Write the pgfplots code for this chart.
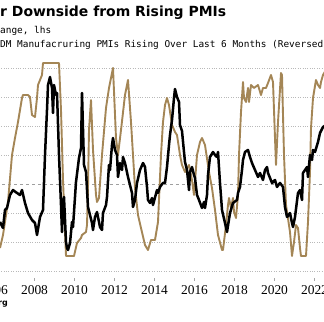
\documentclass[border=0pt]{standalone}
\usepackage{pgfplots}
\pgfplotsset{compat=1.18}
\usepackage{fontspec}
\setmainfont{Liberation Serif}
\newfontfamily\titlefont{DejaVu Sans}
\newfontfamily\monofont{DejaVu Sans Mono}
\definecolor{tanc}{RGB}{164,134,86}
\definecolor{gridc}{RGB}{185,185,185}

\begin{document}
\begin{tikzpicture}
\useasboundingbox (0bp,0bp) rectangle (324bp,322bp);
\begin{scope}
\clip (0bp,0bp) rectangle (324bp,322bp);

\node[anchor=base west, inner sep=0, font=\titlefont\bfseries\fontsize{14}{16}\selectfont] at (0bp,305.3bp) {r Downside from Rising PMIs};
\node[anchor=base west, inner sep=0, font=\monofont\fontsize{9.45}{11}\selectfont] at (0bp,288.3bp) {ange, lhs};
\node[anchor=base west, inner sep=0, font=\monofont\fontsize{9.45}{11}\selectfont] at (0bp,274.3bp) {DM Manufacruring PMIs Rising Over Last 6 Months (Reversed), rhs};
\node[anchor=base east, inner sep=0, font=\titlefont\bfseries\fontsize{8}{9}\selectfont] at (8bp,17bp) {Source: Bloomberg};

% axis A: grid, ticks, labels
\begin{axis}[
  at={(-15.5bp,44bp)}, anchor=south west,
  width=370bp, height=218bp, scale only axis,
  xmin=2005.5, xmax=2024, ymin=-32.24, ymax=42.93,
  axis line style={draw=none},
  xtick={2006,2008,2010,2012,2014,2016,2018,2020,2022},
  xticklabels={2006,2008,2010,2012,2014,2016,2018,2020,2022},
  xtick pos=bottom, tick align=outside,
  major tick length=3bp,
  xtick style={gray!70, line width=0.8bp},
  xticklabel style={font=\fontsize{13.5}{15}\selectfont, yshift=-1bp},
  ytick={-30,-20,-10,10,20,30,40}, yticklabels={},
  ytick style={draw=none},
  ymajorgrids, grid style={gridc, dotted, line width=0.9bp},
  extra y ticks={0}, extra y tick labels={},
  extra y tick style={grid style={gray!75, dashed, line width=0.8bp}, tick style={draw=none}},
]
\addplot[draw=none] coordinates {(2006,0)};
\draw[gray!60, line width=1bp] (rel axis cs:0,0) -- (rel axis cs:1,0);
\end{axis}

% axis B: tan series (reversed)
\begin{axis}[
  at={(-15.5bp,44bp)}, anchor=south west,
  width=370bp, height=218bp, scale only axis,
  xmin=2005.5, xmax=2024, ymin=-1.554, ymax=111.4, y dir=reverse,
  hide axis,
]
\addplot[tanc, line width=1.9bp, line join=round] coordinates {
(2006.275,95.85) (2006.425,89.12) (2006.675,72.02) (2006.875,47.67) (2007.025,38.86)
(2007.175,30.57) (2007.375,18.13) (2007.425,16.58) (2007.675,16.58) (2007.775,17.62)
(2007.875,26.94) (2008.025,27.98) (2008.125,18.13) (2008.175,11.40) (2008.375,6.22)
(2008.425,0) (2009.225,0) (2009.325,24.35) (2009.425,60.62) (2009.575,100)
(2009.975,100) (2010.125,93.26) (2010.325,90.67) (2010.375,89.12) (2010.575,87.56)
(2010.625,83.94) (2010.675,64.77) (2010.725,34.72) (2010.825,19.17) (2010.925,45.08)
(2011.075,68.39) (2011.125,72.02) (2011.225,69.95) (2011.375,47.67) (2011.575,23.32)
(2011.725,12.95) (2011.925,2.59) (2012.075,38.86) (2012.175,47.67) (2012.325,34.72)
(2012.525,16.58) (2012.675,8.81) (2012.825,30.57) (2013.025,64.77) (2013.175,78.76)
(2013.325,85.49) (2013.525,94.30) (2013.675,96.89) (2013.825,91.71) (2014.025,91.71)
(2014.175,82.38) (2014.325,47.67) (2014.425,30.57) (2014.525,21.76) (2014.625,18.13)
(2014.725,21.76) (2014.875,32.12) (2015.025,35.75) (2015.125,37.31) (2015.275,47.67)
(2015.375,52.85) (2015.525,56.48) (2015.725,52.85) (2015.875,60.62) (2015.975,68.39)
(2016.125,47.67) (2016.275,40.93) (2016.375,38.86) (2016.525,42.49) (2016.725,56.48)
(2016.875,64.77) (2017.025,76.17) (2017.175,89.12) (2017.375,96.89) (2017.425,96.89)
(2017.575,83.94) (2017.675,73.57) (2017.725,69.95) (2017.825,75.13) (2017.925,69.95)
(2017.975,77.20) (2018.075,80.31) (2018.175,68.39) (2018.225,47.67) (2018.325,25.39)
(2018.425,9.84) (2018.475,18.13) (2018.575,20.21) (2018.675,12.95) (2018.725,20.21)
(2018.825,11.40) (2018.975,12.95) (2019.175,11.40) (2019.325,16.58) (2019.425,12.95)
(2019.575,12.95) (2019.675,10.36) (2019.825,6.22) (2019.925,9.84) (2020.025,38.86)
(2020.075,52.85) (2020.175,30.57) (2020.325,5.18) (2020.375,6.22) (2020.475,47.67)
(2020.575,73.57) (2020.775,87.56) (2020.875,100) (2020.975,92.75) (2021.075,83.94)
(2021.175,85.49) (2021.275,95.85) (2021.325,100) (2021.575,100) (2021.675,82.38)
(2021.775,56.48) (2021.825,33.68) (2021.925,18.13) (2022.075,8.81) (2022.175,11.40)
(2022.275,12.95) (2022.325,9.84) (2022.425,6.22) (2022.575,3.63)
};
\end{axis}

% axis C: black series
\begin{axis}[
  at={(-15.5bp,44bp)}, anchor=south west,
  width=370bp, height=218bp, scale only axis,
  xmin=2005.5, xmax=2024, ymin=-32.24, ymax=42.93,
  hide axis,
]
\addplot[black, line width=2.5bp, line join=round] coordinates {
(2006.275,-12.93) (2006.425,-15.0) (2006.525,-8.79) (2006.625,-8.10) (2006.775,-3.62)
(2006.925,-1.90) (2007.125,-2.93) (2007.275,-3.62) (2007.375,-1.90) (2007.525,-6.38)
(2007.675,-9.83) (2007.875,-12.24) (2008.025,-13.28) (2008.125,-17.41) (2008.275,-11.21)
(2008.425,-8.79) (2008.525,10.17) (2008.625,25.69) (2008.675,34.31) (2008.775,37.07)
(2008.875,33.28) (2008.925,24.66) (2008.975,34.31) (2009.075,30.86) (2009.125,31.55)
(2009.225,10.17) (2009.325,-7.07) (2009.375,-16.38) (2009.425,-5.34) (2009.475,-4.31)
(2009.575,-19.83) (2009.625,-21.90) (2009.675,-22.59) (2009.775,-20.17) (2009.875,-12.93)
(2009.925,-14.66) (2010.075,0.86) (2010.225,9.14) (2010.325,12.59) (2010.375,31.55)
(2010.475,6.72) (2010.575,4.31) (2010.675,-7.76) (2010.875,-13.28) (2010.925,-15.69)
(2011.025,-11.21) (2011.125,-9.48) (2011.175,-11.21) (2011.275,-14.66) (2011.375,-15.69)
(2011.425,-9.83) (2011.575,-7.07) (2011.625,-4.31) (2011.725,6.72) (2011.775,5.0)
(2011.875,13.62) (2011.925,16.03) (2012.025,11.90) (2012.125,10.17) (2012.175,2.59)
(2012.275,7.41) (2012.375,5.0) (2012.425,9.48) (2012.525,7.41) (2012.675,2.59)
(2012.875,-2.93) (2012.925,-7.76) (2013.025,-5.34) (2013.125,0.52) (2013.275,5.0)
(2013.425,7.41) (2013.525,6.03) (2013.625,-0.86) (2013.675,-5.34) (2013.775,-6.38)
(2013.875,-4.66) (2013.925,-7.07) (2014.125,-1.90) (2014.175,-2.93) (2014.275,-0.86)
(2014.425,0.52) (2014.525,0.52) (2014.625,6.03) (2014.725,13.62) (2014.775,17.07)
(2014.875,22.24) (2014.975,29.83) (2015.025,32.93) (2015.125,30.17) (2015.225,28.45)
(2015.275,20.52) (2015.375,18.45) (2015.475,11.21) (2015.525,7.76) (2015.625,5.0)
(2015.725,-1.90) (2015.775,4.31) (2015.875,6.03) (2015.975,3.28) (2016.025,2.24)
(2016.125,-3.62) (2016.225,-5.34) (2016.375,-8.10) (2016.475,-6.03) (2016.525,-8.10)
(2016.625,-3.62) (2016.675,3.28) (2016.775,9.48) (2016.925,11.21) (2017.025,10.17)
(2017.125,9.48) (2017.175,11.21) (2017.275,0.52) (2017.375,-8.79) (2017.525,-13.28)
(2017.625,-16.38) (2017.775,-9.83) (2017.925,-6.38) (2018.125,-5.34) (2018.175,-2.93)
(2018.275,-0.86) (2018.375,5.0) (2018.425,8.45) (2018.525,11.21) (2018.675,11.90)
(2018.775,9.48) (2018.875,7.41) (2019.025,5.0) (2019.175,2.59) (2019.275,3.97)
(2019.425,1.55) (2019.525,5.0) (2019.625,6.03) (2019.675,3.97) (2019.875,0.52)
(2020.025,1.55) (2020.125,-0.86) (2020.275,0.52) (2020.425,-0.86) (2020.525,-7.76)
(2020.625,-11.21) (2020.775,-9.83) (2020.875,-13.28) (2020.925,-14.66) (2021.025,-11.21)
(2021.175,-2.93) (2021.275,-1.90) (2021.375,-5.34) (2021.425,3.97) (2021.625,6.03)
(2021.675,2.59) (2021.775,10.17) (2021.875,8.45) (2021.925,11.90) (2022.025,11.21)
(2022.175,14.66) (2022.275,17.76) (2022.425,19.83) (2022.575,20.52)
};
\end{axis}
\end{scope}
\end{tikzpicture}
\end{document}
